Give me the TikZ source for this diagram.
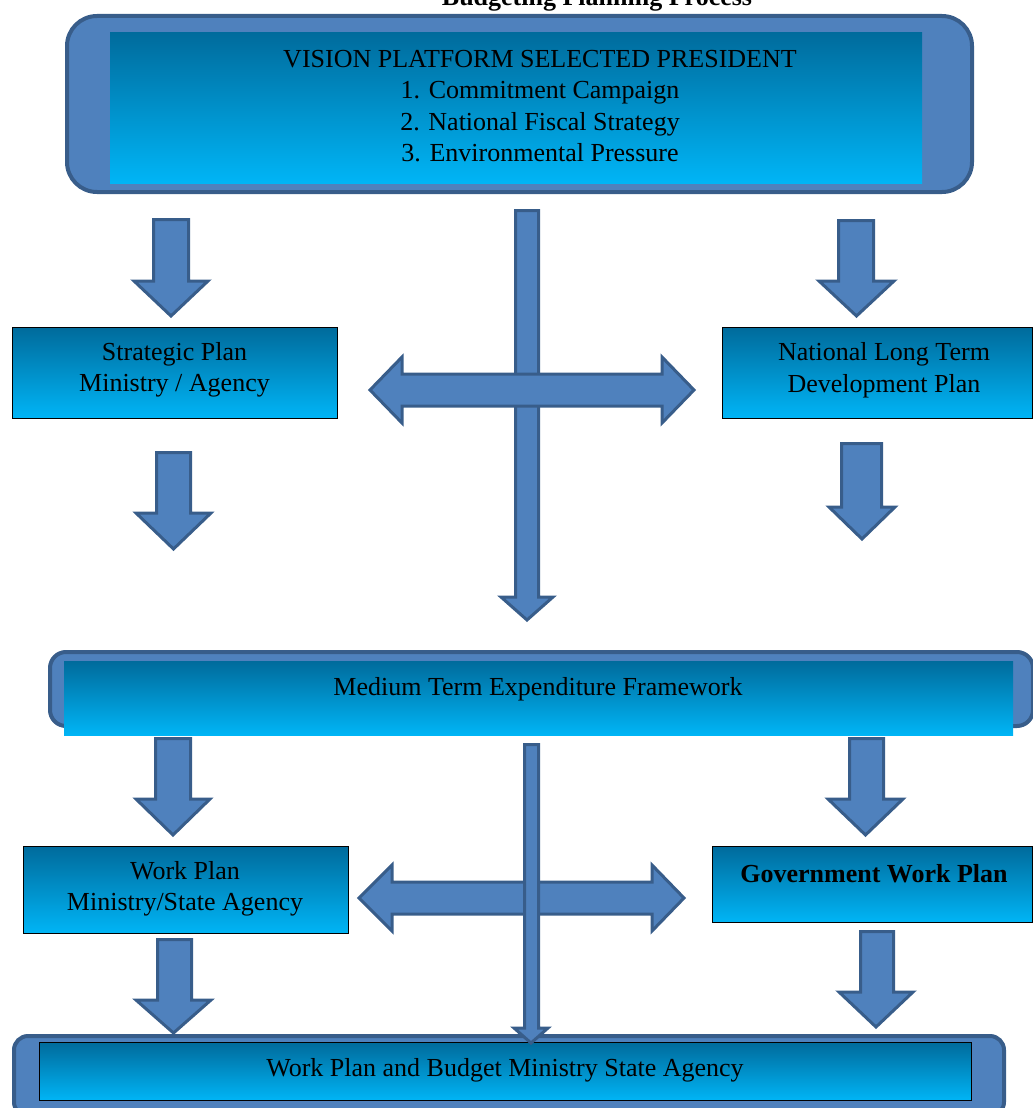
\documentclass[tikz,border=0pt]{standalone}
\usepackage{fontspec}
\setmainfont{Liberation Serif}
\definecolor{arrfill}{HTML}{4F81BD}
\definecolor{arrdraw}{HTML}{385D8A}
\definecolor{gtop}{HTML}{006B9C}
\definecolor{gbot}{HTML}{00B5F6}
\tikzset{
 outerbox/.style={fill=arrfill,draw=arrdraw,line width=4pt,inner sep=0pt,anchor=north west},
 gradbox/.style={top color=gtop,bottom color=gbot,draw=none,inner sep=0pt,anchor=north west},
 linebox/.style={top color=gtop,bottom color=gbot,draw=black,line width=1pt,inner sep=0pt,anchor=north west},
 blk/.style={fill=arrfill,draw=arrdraw,line width=3pt,line join=miter},
 txt/.style={font=\fontsize{26}{31.5}\selectfont,align=center,inner sep=0pt},
}
% down block arrow: shaft left, shaft right, top, head base, head left, head right, tip y
\newcommand{\blkdown}[7]{%
 \draw[blk] (#1,#3) -- (#2,#3) -- (#2,#4) -- (#6,#4) -- ({(#5+#6)/2},#7) -- (#5,#4) -- (#1,#4) -- cycle;}
% double block arrow: left tip x, left back x, right back x, right tip x, centre y, shaft half, head half
\newcommand{\blkdouble}[7]{%
 \draw[blk] (#1,#5) -- (#2,{#5-#7}) -- (#2,{#5-#6}) -- (#3,{#5-#6}) -- (#3,{#5-#7}) -- (#4,#5)
   -- (#3,{#5+#7}) -- (#3,{#5+#6}) -- (#2,{#5+#6}) -- (#2,{#5+#7}) -- cycle;}
\begin{document}
\begin{tikzpicture}[x=1pt,y=-1pt]
\useasboundingbox (0,0) rectangle (1033,1108);
% title
\node[font=\fontsize{26}{31}\selectfont\bfseries,anchor=base,inner sep=0pt] (title) at (597,6) {Budgeting Planning Process};
% top box
\node[outerbox,rounded corners=30pt,minimum width=905pt,minimum height=176pt] (visionframe) at (65,14) {};
\node[gradbox,minimum width=812pt,minimum height=151pt] (vision) at (110,32) {};
\node[txt] (visiontxt) at (540,106) {VISION PLATFORM SELECTED PRESIDENT\\1. Commitment Campaign\\2. National Fiscal Strategy\\3. Environmental Pressure};
% side boxes
\node[linebox,minimum width=325pt,minimum height=91pt] (strat) at (12,327) {};
\node[txt] (strattxt) at (174.5,370) {Strategic Plan\\Ministry / Agency};
\node[linebox,minimum width=310pt,minimum height=91pt] (nltdp) at (722,327) {};
\node[txt] (nltdptxt) at (884,370) {National Long Term\\Development Plan};
% MTEF
\node[outerbox,rounded corners=16pt,minimum width=983pt,minimum height=74pt] (mtefframe) at (48,650) {};
\node[gradbox,minimum width=949pt,minimum height=74pt] (mtef) at (64,661) {};
\node[txt] (meftxt) at (538,689) {Medium Term Expenditure Framework};
% lower boxes
\node[linebox,minimum width=325pt,minimum height=87pt] (workplan) at (23,846) {};
\node[txt] (workplantxt) at (185,889) {Work Plan\\Ministry/State Agency};
\node[linebox,minimum width=320pt,minimum height=76pt] (gwp) at (712,846) {};
\node[txt,font=\fontsize{26}{31}\selectfont\bfseries] (gwptxt) at (874,874) {Government Work Plan};
% bottom box
\node[outerbox,rounded corners=14pt,minimum width=990pt,minimum height=80pt] (budgetframe) at (12,1034) {};
\node[linebox,minimum width=932pt,minimum height=58pt] (budget) at (39,1042) {};
\node[txt] (budgettxt) at (505,1070) {Work Plan and Budget Ministry State Agency};
% arrows, upper part
\blkdown{153.5}{188.5}{219.5}{281}{134}{208}{316}
\blkdown{156.5}{190.5}{452.5}{513}{136}{211}{549}
\blkdown{838.5}{873.5}{220.5}{281}{819}{894}{316}
\blkdown{841.5}{881.5}{443.5}{507}{829}{895}{539}
\blkdown{515.5}{538.5}{210.5}{597}{501}{553}{620}
\blkdouble{370}{402}{662}{694}{390}{16}{33}
% arrows, lower part
\blkdown{155.5}{190.5}{738.5}{799}{136}{210}{835}
\blkdown{157.5}{191.5}{939.5}{1000}{136}{211}{1033}
\blkdown{849.5}{883.5}{738.5}{799}{828}{903}{835}
\blkdown{860.5}{893.5}{931.5}{992}{839}{913}{1027}
\blkdouble{359}{392}{652}{684}{898}{16}{33}
\blkdown{524.5}{538.5}{744.5}{1028}{514}{548}{1043}
\end{tikzpicture}
\end{document}
